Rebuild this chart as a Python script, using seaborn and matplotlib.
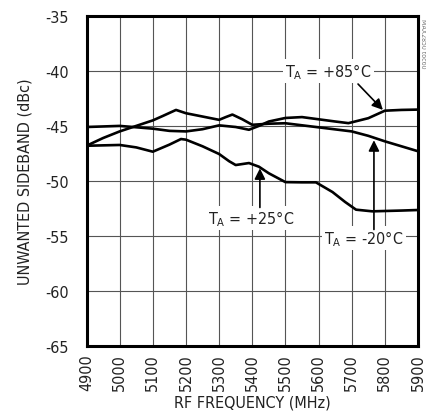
import numpy as np
import pandas as pd
import matplotlib
matplotlib.use('Agg')
import matplotlib.pyplot as plt
import seaborn as sns

# curves (MHz, dBc)
freq_85 = [4900, 5000, 5100, 5150, 5200, 5250, 5300, 5350, 5390, 5420, 5450, 5500,
           5550, 5600, 5650, 5690, 5750, 5800, 5850, 5900]
sb_85 = [-45.1, -45.0, -45.25, -45.45, -45.5, -45.3, -44.95, -45.1, -45.35, -45.0,
         -44.6, -44.28, -44.2, -44.4, -44.6, -44.75, -44.3, -43.62, -43.55, -43.52]

freq_m20 = [4900, 4950, 5000, 5050, 5100, 5130, 5170, 5200, 5250, 5300, 5320, 5340,
            5370, 5400, 5450, 5500, 5600, 5700, 5750, 5800, 5850, 5900]
sb_m20 = [-46.8, -46.1, -45.5, -45.0, -44.5, -44.1, -43.55, -43.85, -44.15, -44.45,
          -44.2, -43.97, -44.4, -44.9, -44.8, -44.76, -45.13, -45.5, -45.9, -46.4,
          -46.85, -47.3]

freq_25 = [4900, 5000, 5050, 5100, 5150, 5185, 5200, 5250, 5300, 5330, 5350, 5390,
           5420, 5450, 5500, 5550, 5592, 5642, 5680, 5713, 5762, 5800, 5850, 5900]
sb_25 = [-46.8, -46.73, -46.95, -47.34, -46.7, -46.19, -46.25, -46.85, -47.55, -48.2,
         -48.55, -48.37, -48.7, -49.3, -50.1, -50.12, -50.12, -51.0, -51.9, -52.6,
         -52.75, -52.72, -52.68, -52.63]

x_ticks = list(range(4900, 6000, 100))
y_ticks = [-65, -60, -55, -50, -45, -40, -35]

sns.set_style('white')
plt.rcParams['font.family'] = ['DejaVu Sans']
plt.rcParams['font.stretch'] = 'condensed'
plt.rcParams['mathtext.fontset'] = 'custom'
plt.rcParams['mathtext.rm'] = 'DejaVu Sans:stretch=condensed'

fig = plt.figure(figsize=(4.27, 4.14), dpi=100)
ax = fig.add_axes([0.2026, 0.161, 0.7764, 0.7987])

txt = '#222222'
fs = 11.5
for fx, fy in [(freq_85, sb_85), (freq_m20, sb_m20), (freq_25, sb_25)]:
    sns.lineplot(x=fx, y=fy, ax=ax, color='black', linewidth=1.9)

ax.set_xlim(4900, 5900)
ax.set_ylim(-65, -35)
ax.set_xticks(x_ticks)
ax.set_yticks(y_ticks)
ax.set_xticklabels([str(v) for v in x_ticks], rotation=90, fontsize=fs, color=txt)
ax.set_yticklabels([str(v) for v in y_ticks], fontsize=fs, color=txt)
ax.tick_params(axis='both', length=0)
ax.tick_params(axis='y', pad=13)
ax.tick_params(axis='x', pad=5)
ax.grid(True, color='#555555', linewidth=0.8)
for s in ax.spines.values():
    s.set_color('black')
    s.set_linewidth(2.2)

ax.set_xlabel('RF FREQUENCY (MHz)', fontsize=fs, color=txt, labelpad=3)
ax.set_ylabel('UNWANTED SIDEBAND (dBc)', fontsize=fs, color=txt, labelpad=9)

box = dict(fc='white', ec='none', pad=1.5)
arrow = dict(arrowstyle='-|>', color='black', lw=1.2, mutation_scale=16, shrinkA=0, shrinkB=0)

ax.text(5630, -40.0, r'T$_\mathregular{A}$ = +85°C', ha='center', va='center',
        fontsize=fs, color=txt, bbox=box)
ax.annotate('', xy=(5794, -43.55), xytext=(5719, -41.2), arrowprops=arrow)

ax.text(5396, -53.36, r'T$_\mathregular{A}$ = +25°C', ha='center', va='center',
        fontsize=fs, color=txt, bbox=box)
ax.annotate('', xy=(5423, -48.85), xytext=(5423, -52.4), arrowprops=arrow)

ax.text(5737, -55.17, r'T$_\mathregular{A}$ = -20°C', ha='center', va='center',
        fontsize=fs, color=txt, bbox=box)
ax.annotate('', xy=(5767, -46.3), xytext=(5767, -54.4), arrowprops=arrow)

fig.text(0.991, 0.955, 'MAX2850 toc60', rotation=270, ha='center', va='top',
         fontsize=5, color='#777777')

fig.savefig('out.png', dpi=100)
